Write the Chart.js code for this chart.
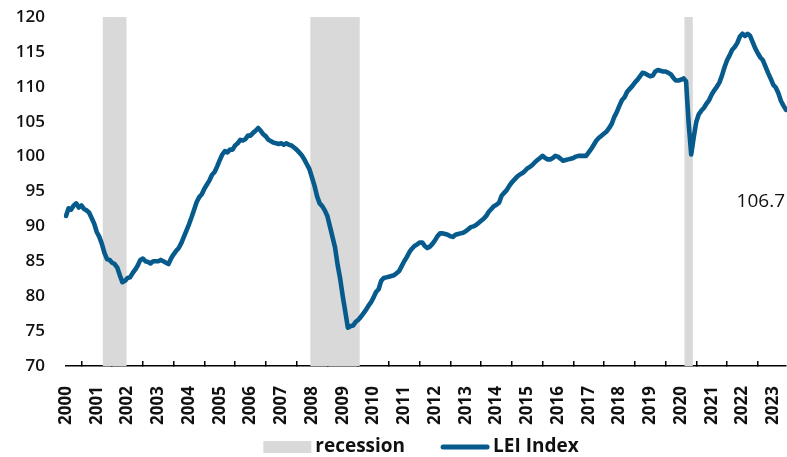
<!DOCTYPE html>
<html>
<head>
<meta charset="utf-8">
<script src="https://cdn.jsdelivr.net/npm/chart.js@4.4.0/dist/chart.umd.min.js"></script>
<style>
html,body{margin:0;padding:0;background:#fff;}
#wrap{width:787px;height:457px;}
</style>
</head>
<body>
<div id="wrap"><canvas id="c" width="787" height="457"></canvas></div>
<script>
// ---- data ----
const tickYears = [2000,2001,2002,2003,2004,2005,2006,2007,2008,2009,2010,2011,2012,2013,2014,2015,2016,2017,2018,2019,2020,2021,2022,2023];
const monthCodes = ['01','02','03','04','05','06','07','08','09','10','11','12'];
const monthsInLastYear = 6;
const categories = [];
tickYears.forEach((y, i) => {
  monthCodes.forEach((m, j) => {
    if (i < tickYears.length - 1 || j < monthsInLastYear) categories.push(y + '-' + m);
  });
});

const leiIndex = [
  91.5, 92.6, 92.4, 93.0, 93.3, 92.7, 93.0, 92.5, 92.3, 92.0, 91.2, 90.4,   // 2000
  89.2, 88.5, 87.5, 86.2, 85.3, 85.2, 84.8, 84.6, 84.1, 83.0, 82.0, 82.2,   // 2001
  82.6, 82.7, 83.3, 83.8, 84.4, 85.2, 85.4, 85.0, 84.9, 84.7, 85.0, 85.0,   // 2002
  85.0, 85.2, 85.0, 84.8, 84.6, 85.4, 86.0, 86.5, 86.9, 87.6, 88.5, 89.4,   // 2003
  90.3, 91.3, 92.4, 93.5, 94.2, 94.6, 95.4, 96.0, 96.6, 97.4, 97.8, 98.6,   // 2004
  99.5, 100.3, 100.8, 100.6, 101.0, 101.0, 101.6, 101.9, 102.4, 102.3, 102.5, 103.0, // 2005
  103.0, 103.4, 103.7, 104.1, 103.7, 103.2, 102.9, 102.4, 102.2, 102.0, 101.9, 101.8, // 2006
  101.9, 101.7, 101.9, 101.7, 101.6, 101.3, 101.0, 100.6, 100.2, 99.6, 98.9, 98.2,  // 2007
  97.0, 95.8, 94.3, 93.3, 92.9, 92.3, 91.5, 90.0, 88.5, 87.0, 84.5, 82.5,   // 2008
  80.0, 77.8, 75.5, 75.7, 75.8, 76.3, 76.6, 77.0, 77.5, 78.0, 78.6, 79.1,   // 2009
  79.8, 80.6, 81.0, 82.2, 82.6, 82.7, 82.8, 82.9, 83.0, 83.3, 83.6, 84.3,   // 2010
  85.0, 85.6, 86.3, 86.8, 87.2, 87.4, 87.7, 87.7, 87.2, 86.9, 87.1, 87.5,   // 2011
  88.0, 88.6, 89.0, 89.0, 88.9, 88.8, 88.6, 88.5, 88.8, 88.9, 89.0, 89.1,   // 2012
  89.3, 89.6, 89.9, 90.0, 90.2, 90.5, 90.8, 91.1, 91.5, 92.1, 92.5, 92.9,   // 2013
  93.1, 93.4, 94.4, 94.8, 95.2, 95.8, 96.3, 96.7, 97.1, 97.4, 97.6, 97.9,   // 2014
  98.3, 98.5, 98.8, 99.2, 99.5, 99.8, 100.1, 99.8, 99.6, 99.6, 99.8, 100.1, // 2015
  100.0, 99.7, 99.4, 99.5, 99.6, 99.7, 99.8, 100.0, 100.1, 100.1, 100.1, 100.1, // 2016
  100.6, 101.1, 101.7, 102.3, 102.7, 103.0, 103.3, 103.6, 104.1, 104.7, 105.7, 106.4, // 2017
  107.3, 108.1, 108.5, 109.3, 109.7, 110.1, 110.6, 111.0, 111.5, 112.0, 111.9, 111.7, // 2018
  111.5, 111.6, 112.2, 112.4, 112.3, 112.2, 112.2, 112.0, 111.8, 111.3, 110.9, 110.9, // 2019
  111.0, 111.2, 110.8, 104.8, 100.3, 102.8, 105.0, 106.1, 106.6, 107.0, 107.6, 108.1, // 2020
  108.9, 109.5, 110.0, 110.6, 111.6, 112.8, 113.8, 114.5, 115.3, 115.7, 116.3, 117.2, // 2021
  117.6, 117.3, 117.6, 117.3, 116.4, 115.5, 114.8, 114.2, 113.8, 112.9, 112.0, 111.2, // 2022
  110.3, 109.9, 109.1, 108.0, 107.3, 106.7                                          // 2023
];

const recessionStart = ['2001-04', '2008-01', '2020-03'];
const recessionEnd   = ['2001-12', '2009-07', '2020-05'];
const recessionTop = 120;
const recession = categories.map(c =>
  recessionStart.some((s, k) => c >= s && c <= recessionEnd[k]) ? recessionTop : null);

const seriesNames = ['recession', 'LEI Index'];
const lastValueLabel = leiIndex[leiIndex.length - 1].toFixed(1);

// ---- style ----
const BLUE = '#065b8c';
const GRAY = '#d9d9d9';
const FONT = "'Open Sans', 'DejaVu Sans', sans-serif";

const lastLabelPlugin = {
  id: 'lastLabel',
  afterDatasetsDraw(chart) {
    const {ctx, chartArea, scales} = chart;
    ctx.save();
    ctx.font = '19px ' + FONT;
    ctx.fillStyle = '#111';
    ctx.textAlign = 'right';
    ctx.textBaseline = 'middle';
    ctx.fillText(lastValueLabel, chartArea.right - 1, scales.y.getPixelForValue(93.5));
    ctx.restore();
  }
};

const legendPlugin = {
  id: 'customLegend',
  afterDraw(chart) {
    const {ctx, chartArea} = chart;
    ctx.save();
    ctx.font = 'bold 19px ' + FONT;
    ctx.textBaseline = 'middle';
    ctx.textAlign = 'left';
    const keyW = 48, gapText = 4, gapItem = 36;
    const w0 = ctx.measureText(seriesNames[0]).width;
    const w1 = ctx.measureText(seriesNames[1]).width;
    const total = keyW + gapText + w0 + gapItem + keyW + gapText + w1;
    const cx = (chartArea.left + chartArea.right) / 2 - 5;
    const cy = chart.height - 10;
    let x = cx - total / 2;
    ctx.fillStyle = GRAY;
    ctx.fillRect(x, cy - 6, keyW, 12);
    x += keyW + gapText;
    ctx.fillStyle = '#111';
    ctx.fillText(seriesNames[0], x, cy);
    x += w0 + gapItem;
    ctx.strokeStyle = BLUE;
    ctx.lineWidth = 5;
    ctx.lineCap = 'round';
    ctx.beginPath();
    ctx.moveTo(x + 2, cy);
    ctx.lineTo(x + keyW - 2, cy);
    ctx.stroke();
    x += keyW + gapText;
    ctx.fillText(seriesNames[1], x, cy);
    ctx.restore();
  }
};

new Chart(document.getElementById('c'), {
  type: 'line',
  data: {
    labels: categories,
    datasets: [
      { type: 'bar', label: seriesNames[0], data: recession, backgroundColor: GRAY,
        borderWidth: 0, barPercentage: 1, categoryPercentage: 1, order: 2 },
      { type: 'line', label: seriesNames[1], data: leiIndex, borderColor: BLUE, backgroundColor: BLUE,
        borderWidth: 4.6, pointRadius: 0, tension: 0, borderJoinStyle: 'round', borderCapStyle: 'round', order: 1 }
    ]
  },
  options: {
    responsive: false,
    animation: false,
    devicePixelRatio: 1,
    layout: { padding: { left: 0, right: 1, top: 17, bottom: 21 } },
    plugins: {
      tooltip: { enabled: false },
      legend: { display: false }
    },
    scales: {
      x: {
        type: 'category',
        offset: false,
        afterBuildTicks(s) { s.ticks = tickYears.map((y, i) => ({ value: i * 12 })); },
        afterFit(s) { s.height = 70; s.paddingLeft = 0; s.paddingRight = 0; },
        ticks: {
          autoSkip: false, minRotation: 90, maxRotation: 90, padding: 25,
          font: { family: FONT, size: 17, weight: 'bold' }, color: '#111',
          callback: (v) => tickYears[v / 12]
        },
        grid: { display: true, drawOnChartArea: false, drawTicks: true, tickLength: -5, color: '#000', lineWidth: 1.5 },
        border: { display: true, color: '#000', width: 1.5 }
      },
      y: {
        min: 70, max: 120,
        afterFit(s) { s.width = 66; s.paddingTop = 0; s.paddingBottom = 0; },
        ticks: { stepSize: 5, padding: 21, font: { family: FONT, size: 17, weight: '600' }, color: '#111' },
        grid: { display: false, drawTicks: false },
        border: { display: false }
      }
    }
  },
  plugins: [lastLabelPlugin, legendPlugin]
});
</script>
</body>
</html>
